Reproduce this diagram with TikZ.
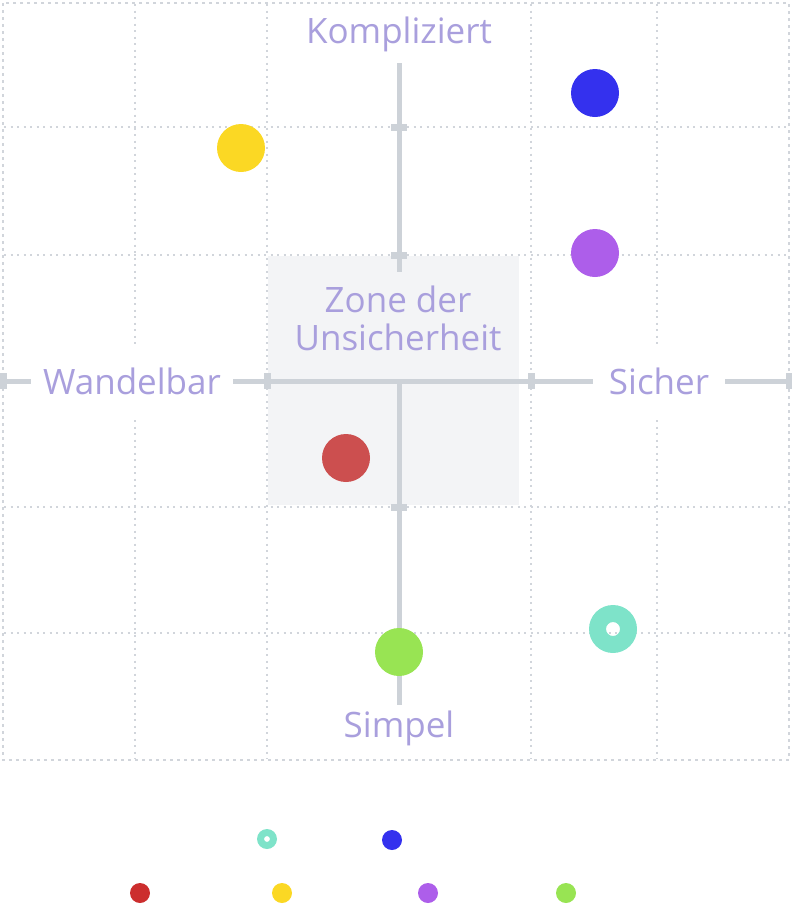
\documentclass[tikz,border=0pt]{standalone}
\usepackage{fontspec}
\setmainfont{Open Sans}

\definecolor{gridgray}{HTML}{D1D5DB}
\definecolor{axisgray}{HTML}{CDD2D8}
\definecolor{zonegray}{HTML}{F3F4F6}
\definecolor{labelpurple}{HTML}{A99FDD}
\definecolor{dotblue}{HTML}{3431EE}
\definecolor{dotyellow}{HTML}{FBD824}
\definecolor{dotpurple}{HTML}{AD5EEA}
\definecolor{dotred}{HTML}{CC4F4F}
\definecolor{legendred}{HTML}{CC2E2E}
\definecolor{dotgreen}{HTML}{98E453}
\definecolor{dotteal}{HTML}{7EE3C9}

\begin{document}
\begin{tikzpicture}[x=1pt,y=-1pt,
  gridline/.style={gridgray, line width=1.4pt, dash pattern=on 2pt off 4.5pt},
  frameline/.style={gridgray, line width=2.8pt, dash pattern=on 2.8pt off 4.2pt},
  axisline/.style={axisgray, line width=5pt},
  lbl/.style={text=labelpurple, font=\fontsize{35}{38}\selectfont, inner sep=0pt},
  dot/.style={circle, fill=#1, minimum size=48pt, inner sep=0pt},
  keydot/.style={circle, fill=#1, minimum size=20pt, inner sep=0pt},
  spot/.style={circle, minimum size=#1, inner sep=0pt}]
\useasboundingbox (0,0) rectangle (792,911);

% grid
\foreach \x in {135,267,531,657}
  \draw[gridline] (\x,4) -- (\x,759);
\foreach \y in {127,255,507,633}
  \draw[gridline] (4,\y) -- (788,\y);
\draw[frameline] (3,3) rectangle (789,760);

% zone
\fill[zonegray] (268,256) rectangle (519,505);
\node[lbl, align=center] (zone) at (398,318) {Zone der\\Unsicherheit};

% axis labels
\node[lbl, fill=white, inner xsep=5pt] (kompliziert) at (399,34) {Kompliziert};
\node[lbl, fill=white, inner xsep=5pt] (simpel) at (399,728) {Simpel};
\node[lbl, fill=white, inner xsep=12pt, minimum height=70pt] (wandelbar) at (132,381) {Wandelbar};
\node[lbl, fill=white, inner xsep=16pt, minimum height=70pt] (sicher) at (659,381) {Sicher};

\coordinate (top) at (399,63);
\coordinate (bottom) at (399,705);
\coordinate (mid) at (399,381);
\coordinate (gapend) at (399,272);
\coordinate (left) at (3,381);
\coordinate (right) at (789,381);

% axes
\draw[axisline] (top) -- (gapend);
\draw[axisline] (mid) -- (bottom);
\draw[axisline] (left) -- (wandelbar.west);
\draw[axisline] (wandelbar.east) -- (sicher.west);
\draw[axisline] (sicher.east) -- (right);

% ticks
\foreach \y in {127,255,507}
  \fill[axisgray] (391,124) ++(0,\y-127) rectangle ++(16,7);
\foreach \x in {3,267,531,789}
  \fill[axisgray] (\x-3.5,373) rectangle ++(7,16);

% points
\node[dot=dotblue] (blue) at (595,93) {};
\node[dot=dotyellow] (yellow) at (241,148) {};
\node[dot=dotpurple] (purple) at (595,253) {};
\node[dot=dotred] (red) at (346,458) {};
\node[dot=dotgreen] (green) at (399,652) {};
\node[spot=48pt] (teal) at (613,629) {};
\fill[dotteal, even odd rule] (teal) circle[radius=24pt] circle[radius=7pt];

% legend
\node[spot=20pt] (keyteal) at (267,839) {};
\fill[dotteal, even odd rule] (keyteal) circle[radius=10pt] circle[radius=3pt];
\node[keydot=dotblue] (keyblue) at (392,840) {};
\node[keydot=legendred] (keyred) at (140,893) {};
\node[keydot=dotyellow] (keyyellow) at (282,893) {};
\node[keydot=dotpurple] (keypurple) at (428,893) {};
\node[keydot=dotgreen] (keygreen) at (566,893) {};
\end{tikzpicture}
\end{document}
